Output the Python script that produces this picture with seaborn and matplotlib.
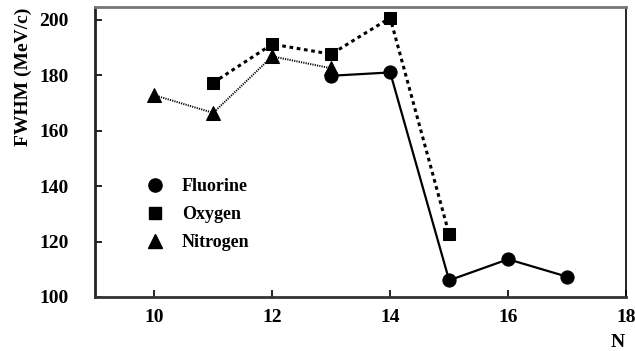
import matplotlib
matplotlib.use("Agg")
import matplotlib.pyplot as plt
import seaborn as sns
import pandas as pd
from matplotlib.lines import Line2D

# Data
fluorine_n = [13, 14, 15, 16, 17]
fluorine_fwhm = [179.8, 181.0, 106.0, 113.6, 107.3]
oxygen_n = [11, 12, 13, 14, 15]
oxygen_fwhm = [177.3, 191.2, 187.6, 200.7, 122.6]
nitrogen_n = [10, 11, 12, 13]
nitrogen_fwhm = [172.8, 166.4, 186.8, 182.5]
err = 1.8

x_ticks = [10, 12, 14, 16, 18]
y_ticks = [100, 120, 140, 160, 180, 200]

sns.set_style("ticks")
plt.rcParams['font.family'] = ['Liberation Serif', 'DejaVu Serif']
plt.rcParams['font.weight'] = 'bold'
plt.rcParams['text.color'] = 'black'
plt.rcParams['axes.labelcolor'] = 'black'
plt.rcParams['xtick.color'] = 'black'
plt.rcParams['ytick.color'] = 'black'

fig = plt.figure(figsize=(6.35, 3.51), dpi=100)
ax = fig.add_axes([0.15, 0.154, 0.836, 0.826])

series = [
    ("Fluorine", fluorine_n, fluorine_fwhm, "o", "-", 1.6, 9.5),
    ("Oxygen", oxygen_n, oxygen_fwhm, "s", (0, (1.2, 1.2)), 2.2, 9),
    ("Nitrogen", nitrogen_n, nitrogen_fwhm, "^", (0, (0.6, 0.6)), 1.4, 9.5),
]

handles = []
for name, xs, ys, mk, ls, lw, ms in series:
    df = pd.DataFrame({"N": xs, "FWHM": ys})
    sns.lineplot(data=df, x="N", y="FWHM", ax=ax, color="black",
                 linestyle=ls, linewidth=lw, marker=mk, markersize=ms,
                 markeredgecolor="black", zorder=3)
    ax.errorbar(xs, ys, yerr=err, fmt="none", ecolor="black", elinewidth=1, zorder=2)
    handles.append(Line2D([], [], color="black", marker=mk, linestyle="none",
                          markersize=ms, label=name))

ax.set_xlim(9, 18)
ax.set_ylim(100, 204.6)
ax.set_xticks(x_ticks)
ax.set_yticks(y_ticks)
ax.tick_params(direction="in", length=5, width=1.2, labelsize=14)
ax.tick_params(axis="y", pad=19)
ax.tick_params(axis="x", pad=9)
for lab in ax.get_xticklabels() + ax.get_yticklabels():
    lab.set_fontweight("bold")

ax.spines["left"].set_linewidth(2)
ax.spines["left"].set_color("#222222")
ax.spines["bottom"].set_linewidth(2)
ax.spines["bottom"].set_color("#333333")
ax.spines["top"].set_linewidth(2)
ax.spines["top"].set_color("#777777")
ax.spines["right"].set_linewidth(1.2)
ax.spines["right"].set_color("black")

ax.set_xlabel("")
ax.set_ylabel("")
fig.text(0.036, 0.78, "FWHM (MeV/c)", fontsize=14, fontweight="bold",
         rotation=90, ha="center", va="center")
fig.text(0.973, 0.01, "N", fontsize=14, fontweight="bold", ha="center", va="baseline")

leg = ax.legend(handles=handles, loc="upper left", bbox_to_anchor=(0.075, 0.44),
                frameon=False, fontsize=13, handletextpad=0.9, labelspacing=0.6,
                handlelength=1.2, borderpad=0.0)
for t in leg.get_texts():
    t.set_fontweight("bold")

fig.savefig("out.png", dpi=100)
